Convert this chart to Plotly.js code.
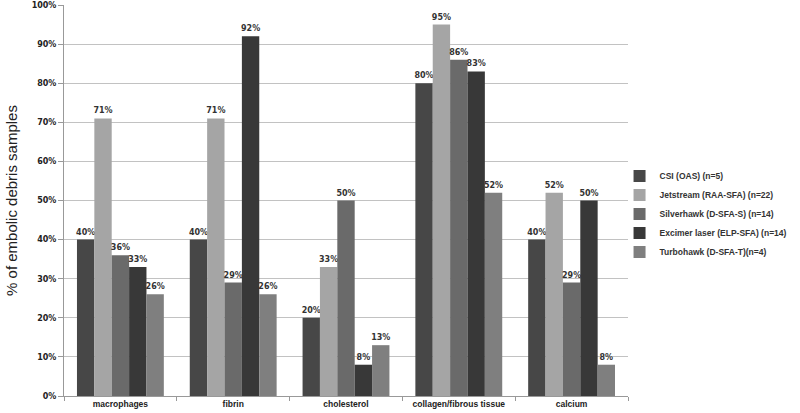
<!DOCTYPE html>
<html><head><meta charset="utf-8">
<script src="https://cdn.plot.ly/plotly-3.0.1.min.js"></script>
<style>html,body{margin:0;padding:0;background:#fff;}#chart{width:800px;height:413px;}</style>
</head><body><div id="chart"></div>
<script>
const categories = ["macrophages", "fibrin", "cholesterol", "collagen/fibrous tissue", "calcium"];
const seriesNames = ["CSI (OAS) (n=5)", "Jetstream (RAA-SFA) (n=22)", "Silverhawk (D-SFA-S) (n=14)", "Excimer laser (ELP-SFA) (n=14)", "Turbohawk (D-SFA-T)(n=4)"];
const csi = [40, 40, 20, 80, 40];
const jetstream = [71, 71, 33, 95, 52];
const silverhawk = [36, 29, 50, 86, 29];
const excimer = [33, 92, 8, 83, 50];
const turbohawk = [26, 26, 13, 52, 8];
const yTicks = [0, 10, 20, 30, 40, 50, 60, 70, 80, 90, 100];

const seriesValues = [csi, jetstream, silverhawk, excimer, turbohawk];
const colors = ["#474747", "#a5a5a5", "#6a6a6a", "#383838", "#7f7f7f"];

const traces = seriesValues.map((vals, i) => ({
  type: "bar",
  name: seriesNames[i],
  x: categories,
  y: vals,
  marker: {color: colors[i]},
  text: vals.map(v => v + "%"),
  textposition: "outside",
  textfont: {family: "DejaVu Sans, sans-serif", size: 8, color: "#333", weight: "bold"},
  cliponaxis: false,
  hoverinfo: "none"
}));

const layout = {
  width: 800, height: 413,
  margin: {l: 64, r: 172, t: 5, b: 17},
  paper_bgcolor: "#fff", plot_bgcolor: "#fff",
  barmode: "group",
  bargap: 0.23,
  bargroupgap: 0,
  uniformtext: {mode: "show", minsize: 8},
  showlegend: true,
  legend: {
    x: 0.985, y: 0.60, xanchor: "left", yanchor: "top",
    font: {family: "Liberation Sans, Arial, sans-serif", size: 8.5, color: "#333", weight: "bold"},
    itemwidth: 30,
    bgcolor: "rgba(0,0,0,0)"
  },
  xaxis: {
    tickson: "boundaries",
    tickangle: 0,
    ticks: "outside", ticklen: 4, tickcolor: "#999",
    showline: true, linecolor: "#999", linewidth: 1,
    tickfont: {family: "Liberation Sans, Arial, sans-serif", size: 8.5, color: "#222", weight: "bold"},
    showgrid: false
  },
  yaxis: {
    range: [0, 100],
    tickvals: yTicks,
    ticktext: yTicks.map(v => v + "%"),
    ticks: "outside", ticklen: 5, tickcolor: "#999",
    showline: true, linecolor: "#999", linewidth: 1,
    gridcolor: "#c2c2c2", gridwidth: 1,
    zeroline: false,
    tickfont: {family: "DejaVu Sans, sans-serif", size: 8, color: "#222", weight: "bold"},
    title: {text: "% of embolic debris samples", font: {family: "Liberation Sans, Arial, sans-serif", size: 15, color: "#222"}, standoff: 10}
  }
};

Plotly.newPlot("chart", traces, layout, {displayModeBar: false, staticPlot: true});
</script>
</body></html>
